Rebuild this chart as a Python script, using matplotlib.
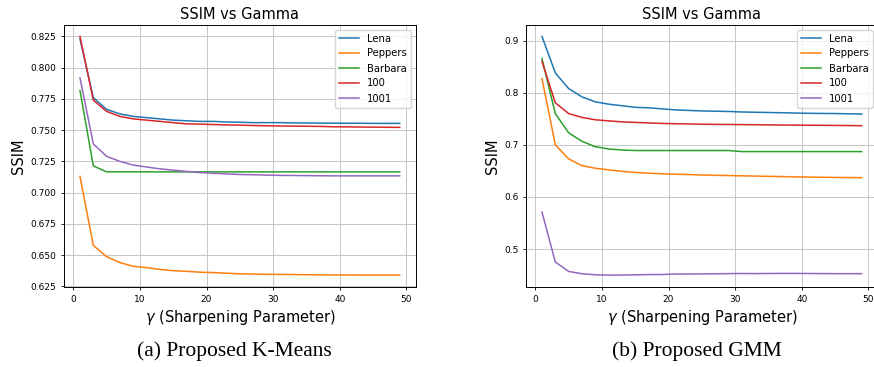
import numpy as np
import matplotlib
matplotlib.use("Agg")
import matplotlib.pyplot as plt

# gamma values (odd steps)
gamma = list(range(1, 50, 2))
names = ['Lena', 'Peppers', 'Barbara', '100', '1001']

# (a) Proposed K-Means
km_lena = [0.823, 0.776, 0.7666, 0.763, 0.761, 0.760, 0.759, 0.758, 0.7575, 0.757,
           0.757, 0.7565, 0.7563, 0.756, 0.756, 0.756, 0.7558, 0.7557, 0.7556, 0.7556,
           0.7555, 0.7555, 0.7554, 0.7554, 0.7554]
km_peppers = [0.713, 0.6577, 0.6487, 0.644, 0.641, 0.640, 0.6385, 0.6375, 0.637, 0.6363,
              0.636, 0.6355, 0.635, 0.6348, 0.6346, 0.6345, 0.6344, 0.6343, 0.6342, 0.6341,
              0.6341, 0.634, 0.634, 0.634, 0.634]
km_barbara = [0.7817, 0.7214, 0.7166, 0.7166, 0.7166, 0.7166, 0.7166, 0.7166, 0.7166, 0.7166,
              0.7166, 0.7166, 0.7166, 0.7166, 0.7166, 0.7166, 0.7166, 0.7166, 0.7166, 0.7166,
              0.7166, 0.7166, 0.7166, 0.7166, 0.7166]
km_100 = [0.825, 0.774, 0.765, 0.761, 0.759, 0.758, 0.757, 0.756, 0.755, 0.7548,
          0.7545, 0.7542, 0.754, 0.7537, 0.7535, 0.7533, 0.7532, 0.7531, 0.753, 0.7527,
          0.7526, 0.7525, 0.7524, 0.7523, 0.7522]
km_1001 = [0.7918, 0.739, 0.729, 0.725, 0.722, 0.7205, 0.719, 0.718, 0.717, 0.716,
           0.7155, 0.715, 0.7145, 0.7143, 0.714, 0.7138, 0.7137, 0.7136, 0.7135, 0.7134,
           0.7134, 0.7134, 0.7134, 0.7134, 0.7134]

# (b) Proposed GMM
gmm_lena = [0.908, 0.838, 0.808, 0.792, 0.7825, 0.778, 0.775, 0.772, 0.771, 0.769,
            0.767, 0.766, 0.765, 0.7645, 0.764, 0.763, 0.7625, 0.762, 0.7615, 0.761,
            0.7605, 0.7602, 0.76, 0.7595, 0.759]
gmm_peppers = [0.827, 0.700, 0.673, 0.660, 0.655, 0.652, 0.649, 0.647, 0.6455, 0.6445,
               0.6435, 0.643, 0.642, 0.6415, 0.641, 0.6405, 0.640, 0.6395, 0.639, 0.6385,
               0.638, 0.6377, 0.6374, 0.6372, 0.637]
gmm_barbara = [0.8655, 0.760, 0.723, 0.7067, 0.6964, 0.692, 0.690, 0.689, 0.689, 0.689,
               0.689, 0.689, 0.689, 0.689, 0.689, 0.687, 0.687, 0.687, 0.687, 0.687,
               0.687, 0.687, 0.687, 0.687, 0.687]
gmm_100 = [0.860, 0.7806, 0.760, 0.7526, 0.748, 0.746, 0.744, 0.743, 0.742, 0.741,
           0.7405, 0.740, 0.7395, 0.7392, 0.739, 0.7388, 0.7385, 0.7382, 0.738, 0.7378,
           0.7376, 0.7374, 0.7372, 0.737, 0.7366]
gmm_1001 = [0.571, 0.475, 0.457, 0.4525, 0.4505, 0.450, 0.450, 0.4505, 0.451, 0.451,
            0.452, 0.452, 0.4522, 0.4525, 0.4528, 0.453, 0.4528, 0.453, 0.4532, 0.4532,
            0.453, 0.4528, 0.4527, 0.4527, 0.4527]

panels = [
    ([km_lena, km_peppers, km_barbara, km_100, km_1001], '(a) Proposed K-Means'),
    ([gmm_lena, gmm_peppers, gmm_barbara, gmm_100, gmm_1001], '(b) Proposed GMM'),
]
colors = ['#1f77b4', '#ff7f0e', '#2ca02c', '#d62728', '#9467bd']

W, H = 874, 367
fig = plt.figure(figsize=(W / 100, H / 100), dpi=100)

# axes boxes in pixels: left, top, right, bottom (right panel is cut off by the figure edge)
boxes = [(64, 24.5, 415.7, 287), (526, 24.5, 877.7, 287)]

for (series, caption), (l, t, r, b) in zip(panels, boxes):
    ax = fig.add_axes([l / W, 1 - b / H, (r - l) / W, (b - t) / H])
    for vals, name, c in zip(series, names, colors):
        ax.plot(gamma, vals, color=c, lw=1.1, label=name)
    ax.grid(True, lw=0.6, color='#bdbdbd')
    ax.set_title('SSIM vs Gamma', fontsize=10.5, pad=4)
    ax.set_xlabel(r'$\gamma$ (Sharpening Parameter)', fontsize=10.5, labelpad=3)
    ax.set_ylabel('SSIM', fontsize=10.5, labelpad=3)
    ax.tick_params(labelsize=6.5, length=2.5, width=0.6, pad=3)
    for s in ax.spines.values():
        s.set_linewidth(0.7)
    ax.legend(loc='upper right', fontsize=7.2)
    fig.text((l + r) / 2 / W - 0.006, 1 - 351 / H, caption, ha='center', va='center',
             family='Liberation Serif', fontsize=15.5)

fig.savefig('out.png', dpi=100)
